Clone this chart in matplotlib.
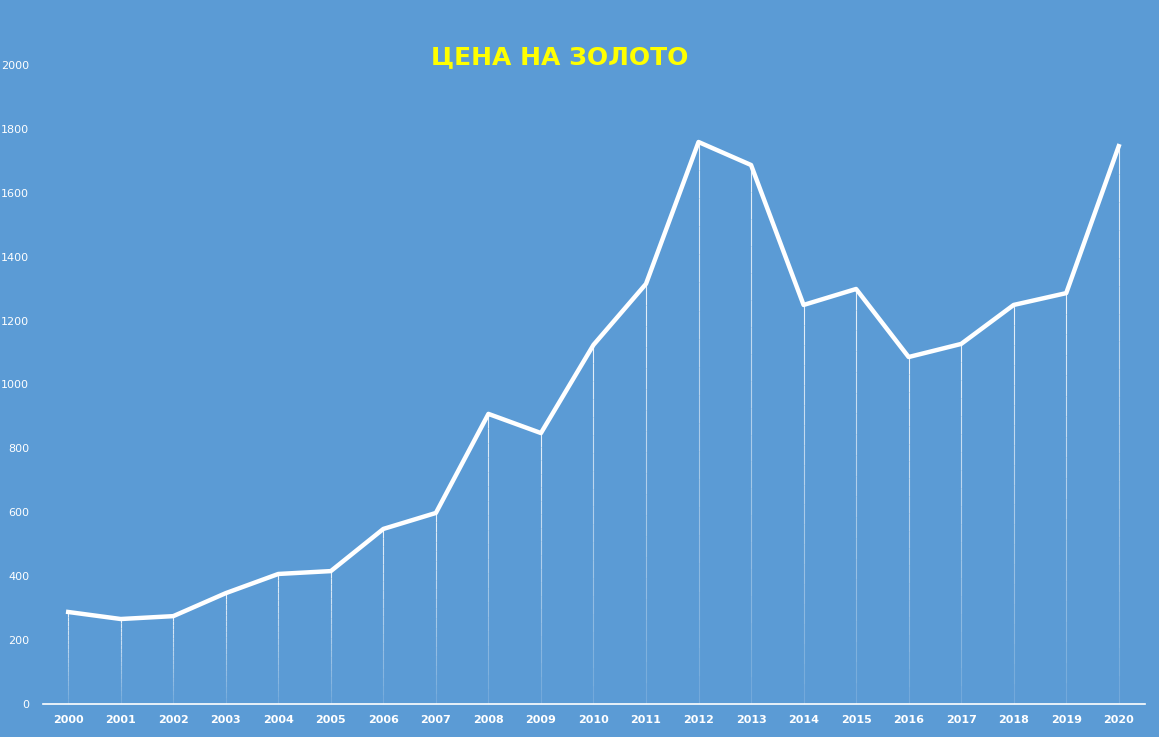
import matplotlib
matplotlib.use("Agg")
import matplotlib.pyplot as plt
import numpy as np

years = [str(y) for y in range(2000, 2021)]
prices = [288, 266, 275, 347, 407, 416, 548, 598, 908, 848, 1124, 1315,
          1759, 1687, 1249, 1299, 1086, 1127, 1249, 1286, 1746]

bg = "#5B9BD5"
fig = plt.figure(figsize=(11.59, 7.37), dpi=100, facecolor=bg)
ax = fig.add_axes([43/1159, 1-704/737, (1145-43)/1159, (704-65)/737])
ax.set_facecolor(bg)
x = np.arange(len(years))
for xi, v in zip(x, prices):
    n = 20
    ys = np.linspace(0, v, n+1)
    for k in range(n):
        a = 0.15 + 0.75 * (k / n)
        ax.plot([xi, xi], [ys[k], ys[k+1]], color="white", lw=0.8, alpha=a,
                solid_capstyle="butt", zorder=2)
ax.plot(x, prices, color="white", lw=3.2, zorder=3)
ax.set_xlim(-0.48, 20.5)
ax.set_ylim(0, 2000)
ax.set_yticks(range(0, 2001, 200))
ax.set_xticks(x)
ax.set_xticklabels(years)
for s in ["top", "right", "left"]:
    ax.spines[s].set_visible(False)
ax.spines["bottom"].set_color("white")
ax.spines["bottom"].set_linewidth(1.2)
ax.tick_params(axis="both", length=0, colors="white", labelsize=8)
ax.tick_params(axis="y", pad=10)
ax.tick_params(axis="x", pad=8)
for t in ax.get_xticklabels():
    t.set_fontweight("bold")
fig.text(560/1159, 1-57/737, "ЦЕНА НА ЗОЛОТО", color="#FFFF00", fontsize=18,
         fontweight="bold", ha="center", va="center")
fig.savefig("out.png", dpi=100, facecolor=bg)
